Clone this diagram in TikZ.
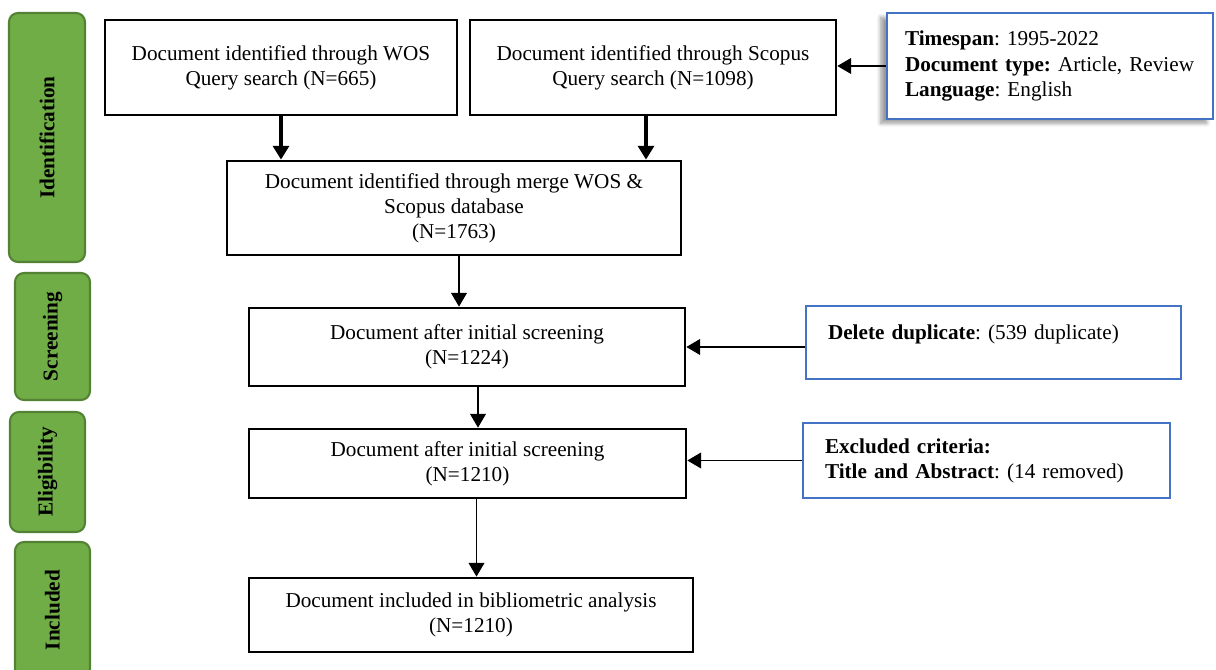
\documentclass[tikz,border=0pt]{standalone}
\usepackage{fontspec}
\setmainfont{Liberation Serif}
\usetikzlibrary{arrows.meta,shapes,shadows.blur}

\newcommand{\pxu}{0.4717pt}
\tikzset{
	stagebox/.style={draw=black, line width=1.3pt, align=center, inner sep=0pt,
		font=\fontsize{10}{11.8}\selectfont},
	notebox/.style={draw=noteblue, line width=1.1pt, fill=white, align=left,
		inner xsep=22*\pxu, inner ysep=0pt, font=\fontsize{10}{11.8}\selectfont},
	phase/.style={draw=phaseline, fill=phasegreen, line width=1pt, rotate=90,
		rounded corners=9*\pxu, inner sep=0pt, font=\fontsize{10}{11.8}\selectfont\bfseries},
	flow/.style={-{Triangle[length=6.5pt,width=7.5pt]}, line width=0.5pt},
	flowthick/.style={flow, line width=1.6pt}
}

\begin{document}
\frenchspacing
\begin{tikzpicture}[x=\pxu, y=-\pxu]
	\definecolor{phasegreen}{RGB}{112,173,71}
	\definecolor{phaseline}{RGB}{84,130,53}
	\definecolor{noteblue}{RGB}{68,114,196}
	\clip (0,0) rectangle (1216,670);
	%% Phases ------
	\node[phase, minimum width=249*\pxu, minimum height=76*\pxu] (pident) at (47,137.5) {Identification};
	\node[phase, minimum width=127*\pxu, minimum height=75*\pxu] (pscreen) at (52.5,336.5) {Screening};
	\node[phase, minimum width=120*\pxu, minimum height=75*\pxu] (pelig) at (47.5,472) {Eligibility};
	\node[phase, minimum width=136*\pxu, minimum height=75*\pxu] (pincl) at (52.5,610) {Included};
	%% Boxes ------
	\node[stagebox, minimum width=352*\pxu, minimum height=95*\pxu] (wos) at (281,67.5)
		{Document identified through WOS\\Query search (N=665)};
	\node[stagebox, minimum width=366*\pxu, minimum height=95*\pxu] (scopus) at (653,67.5)
		{Document identified through Scopus\\Query search (N=1098)};
	\node[stagebox, minimum width=454*\pxu, minimum height=94*\pxu] (merge) at (454,208)
		{Document identified through merge WOS \&\\Scopus database\\(N=1763)};
	\node[stagebox, minimum width=436*\pxu, minimum height=78*\pxu] (screen) at (467,347)
		{Document after initial screening\\(N=1224)};
	\node[stagebox, minimum width=437*\pxu, minimum height=69*\pxu] (elig) at (467.5,463.5)
		{Document after initial screening\\(N=1210)};
	\node[stagebox, minimum width=444*\pxu, minimum height=74*\pxu] (incl) at (471,615)
		{Document included in bibliometric analysis\\(N=1210)};
	%% Notes ------
	\node[notebox, text width=290*\pxu, minimum height=106*\pxu, inner xsep=18*\pxu,
		blur shadow={shadow xshift=-3pt, shadow yshift=-2pt, shadow blur steps=6}] (info) at (1050,66)
		{\textbf{Timespan}: 1995-2022\\\textbf{Document type:} Article, Review\\\textbf{Language}: English};
	\node[notebox, text width=331*\pxu, minimum height=73*\pxu, text depth=10pt] (dup) at (993.5,342.5)
		{\textbf{Delete duplicate}: (539 duplicate)};
	\node[notebox, text width=323*\pxu, minimum height=75*\pxu] (excl) at (986.5,460.5)
		{\textbf{Excluded criteria:}\\\textbf{Title and Abstract}: (14 removed)};
	%% Arrows ---------
	\draw[flowthick] (wos.south) -- (wos.south |- merge.north);
	\draw[flowthick] ([xshift=-7*\pxu]scopus.south) -- ([xshift=-7*\pxu]scopus.south |- merge.north);
	\draw[flow] (info.west) -- (info.west -| scopus.east);
	\draw[flow] ([xshift=5*\pxu]merge.south) -- ([xshift=5*\pxu]merge.south |- screen.north);
	\draw[flow] (dup.west |- screen.east) -- (screen.east);
	\draw[flow] ([xshift=11*\pxu]screen.south) -- ([xshift=11*\pxu]screen.south |- elig.north);
	\draw[flow] (excl.west) -- (excl.west -| elig.east);
	\draw[flow] ([xshift=9*\pxu]elig.south) -- ([xshift=9*\pxu]elig.south |- incl.north);
\end{tikzpicture}
\end{document}
